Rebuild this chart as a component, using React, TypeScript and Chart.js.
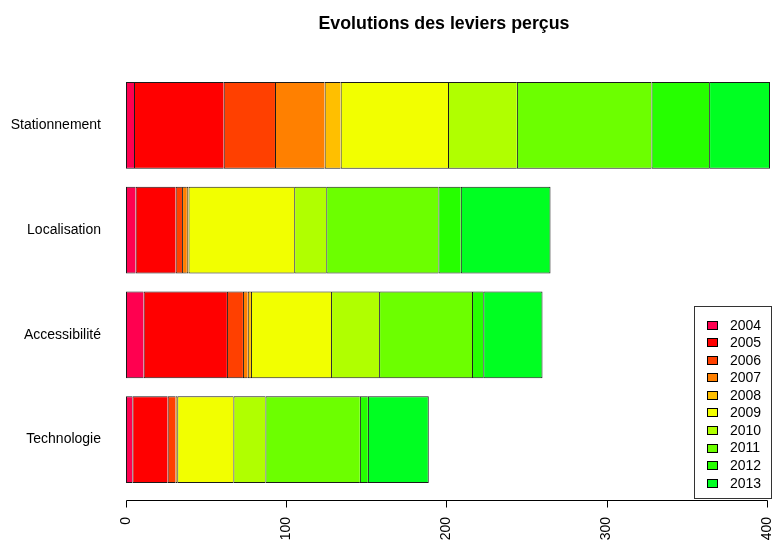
import React, { useEffect, useRef } from 'react';
import { Chart, registerables } from 'chart.js';

Chart.register(...registerables);

const categories = ['Stationnement', 'Localisation', 'Accessibilité', 'Technologie'];
const years = ['2004', '2005', '2006', '2007', '2008', '2009', '2010', '2011', '2012', '2013'];
const yearColors = ['#FF0050', '#FF0000', '#FF4000', '#FF8000', '#FFBF00', '#F2FF00', '#B0FF00', '#6CFF00', '#26FF00', '#00FF22'];

// values per year, ordered like categories
const v2004 = [5, 6, 11, 4];
const v2005 = [56, 25, 52, 22];
const v2006 = [32, 4, 10, 5];
const v2007 = [31, 3, 3, 0];
const v2008 = [10, 1, 2, 1];
const v2009 = [67, 66, 50, 35];
const v2010 = [43, 20, 30, 20];
const v2011 = [84, 70, 58, 59];
const v2012 = [36, 14, 7, 5];
const v2013 = [38, 56, 37, 38];
const seriesValues = [v2004, v2005, v2006, v2007, v2008, v2009, v2010, v2011, v2012, v2013];

const xTickValues = [0, 100, 200, 300, 400];
const xMax = 402;
const titleText = 'Evolutions des leviers perçus';

const FONT = "'Liberation Sans', Arial, sans-serif";

const extrasPlugin = {
  id: 'rExtras',
  afterDraw(chart: any) {
    const ctx = chart.ctx;
    const area = chart.chartArea;
    const xs = chart.scales.x;
    ctx.save();
    // title
    ctx.fillStyle = '#000';
    ctx.font = `bold 17.8px ${FONT}`;
    ctx.textAlign = 'center';
    ctx.textBaseline = 'alphabetic';
    ctx.fillText(titleText, (area.left + area.right) / 2 - 4, 29);

    // x axis line and ticks (R style, offset below plot)
    const yAxis = Math.round(area.bottom + 8) + 0.5;
    ctx.strokeStyle = '#000';
    ctx.lineWidth = 1;
    ctx.beginPath();
    const x0 = Math.round(xs.getPixelForValue(xTickValues[0])) + 0.5;
    const x1 = Math.round(xs.getPixelForValue(xTickValues[xTickValues.length - 1])) + 0.5;
    ctx.moveTo(x0, yAxis);
    ctx.lineTo(x1, yAxis);
    xTickValues.forEach((v) => {
      const px = Math.round(xs.getPixelForValue(v)) + 0.5;
      ctx.moveTo(px, yAxis);
      ctx.lineTo(px, yAxis + 7);
    });
    ctx.stroke();

    // legend box
    const lx = 694.5, ly = 306.5, lw = 77, lh = 192;
    ctx.strokeStyle = '#333';
    ctx.strokeRect(lx, ly, lw, lh);
    ctx.font = `14px ${FONT}`;
    ctx.textAlign = 'left';
    ctx.textBaseline = 'middle';
    chart.data.datasets.forEach((ds: any, i: number) => {
      const cy = 324.7 + i * 17.55;
      ctx.fillStyle = ds.backgroundColor;
      ctx.fillRect(707, Math.round(cy - 4), 10, 8);
      ctx.strokeStyle = '#000';
      ctx.strokeRect(707.5, Math.round(cy - 4) + 0.5, 10, 8);
      ctx.fillStyle = '#000';
      ctx.fillText(ds.label, 730, cy + 1);
    });
    ctx.restore();
  },
};

export default function App() {
  const ref = useRef<HTMLCanvasElement | null>(null);

  useEffect(() => {
    if (!ref.current) return;
    const last = years.length - 1;
    const chart = new Chart(ref.current, {
      type: 'bar',
      data: {
        labels: categories,
        datasets: years.map((y, i) => ({
          label: y,
          data: seriesValues[i],
          backgroundColor: yearColors[i],
          borderColor: '#1a1a1a',
          borderWidth: { top: 1, bottom: 1, left: 1, right: i === last ? 1 : 0 },
          borderSkipped: false,
          barPercentage: 0.83,
          categoryPercentage: 1,
        })),
      },
      options: {
        indexAxis: 'y',
        responsive: false,
        animation: false,
        devicePixelRatio: 1,
        layout: { padding: { top: 73, right: 6, left: 0, bottom: 0 } },
        plugins: {
          legend: { display: false },
          title: { display: false },
          tooltip: { enabled: false },
        },
        scales: {
          x: {
            stacked: true,
            min: 0,
            max: xMax,
            grid: { display: false, drawTicks: false },
            border: { display: false },
            ticks: {
              color: '#000',
              font: { family: FONT, size: 14 },
              minRotation: 90,
              maxRotation: 90,
              autoSkip: false,
              padding: 25,
            },
            afterBuildTicks: (s: any) => {
              s.ticks = xTickValues.map((v) => ({ value: v }));
            },
            afterFit: (s: any) => {
              s.height = 48;
              s.paddingLeft = 0;
              s.paddingRight = 0;
            },
          },
          y: {
            stacked: true,
            grid: { display: false, drawTicks: false },
            border: { display: false },
            ticks: {
              color: '#000',
              font: { family: FONT, size: 14 },
              padding: 25,
            },
            afterFit: (s: any) => {
              s.width = 126;
              s.paddingTop = 0;
              s.paddingBottom = 0;
            },
          },
        },
      },
      plugins: [extrasPlugin],
    } as any);
    return () => chart.destroy();
  }, []);

  return (
    <div style={{ position: 'fixed', left: 0, top: 0, width: 776, height: 540, background: '#fff' }}>
      <canvas ref={ref} width={776} height={540} style={{ display: 'block' }} />
    </div>
  );
}
